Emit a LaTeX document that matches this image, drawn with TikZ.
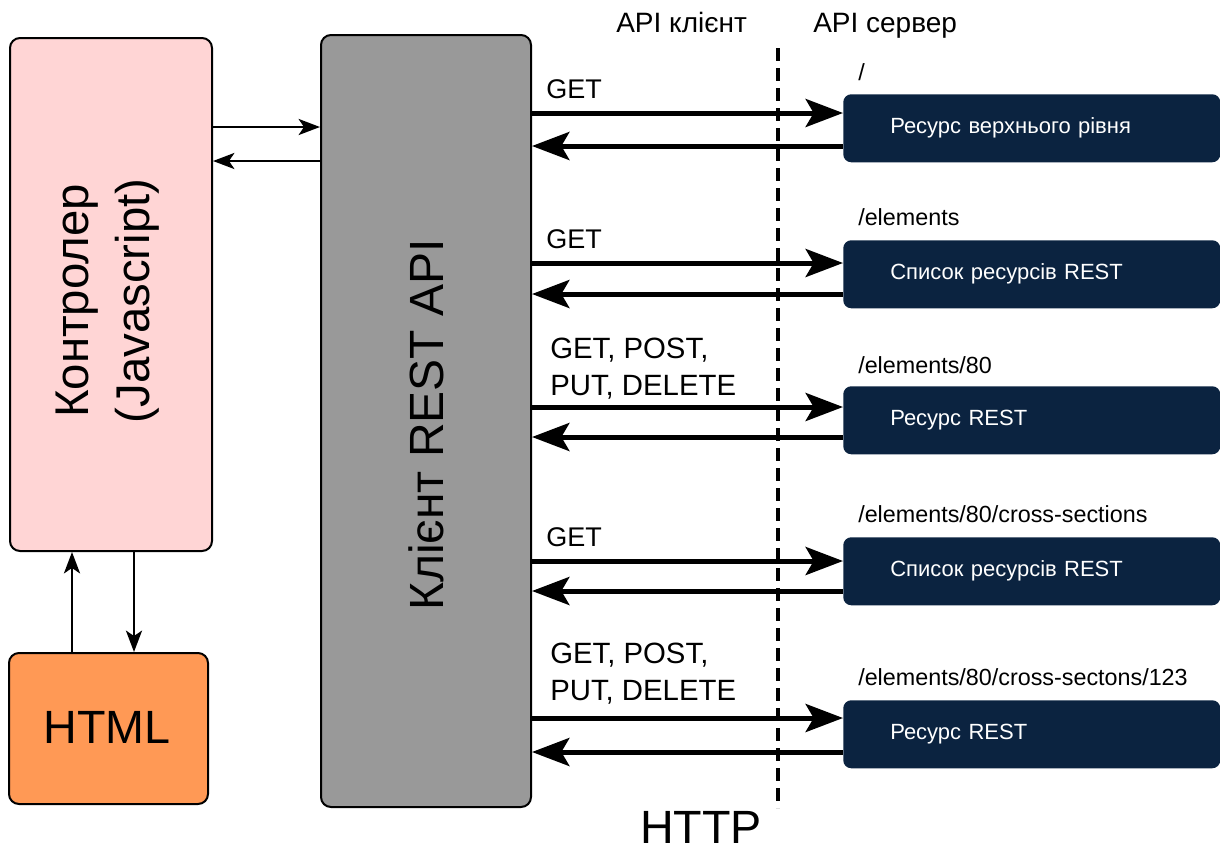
\documentclass[tikz,border=0pt]{standalone}
\usepackage{fontspec}
\setmainfont{Liberation Sans}
\usetikzlibrary{arrows.meta}
\definecolor{ctrlpink}{HTML}{FFD5D5}
\definecolor{htmlorange}{HTML}{FF9955}
\definecolor{clientgray}{HTML}{999999}
\definecolor{navy}{HTML}{0B2340}
\begin{document}
\begin{tikzpicture}[x=0.75pt,y=-0.75pt,
  lbox/.style={draw=black, line width=1.5pt, rounded corners=7.5pt, anchor=north west, inner sep=0pt},
  res/.style={fill=navy, rounded corners=6pt, anchor=north west, minimum height=51pt,
    text width=212.25pt, inner xsep=35.25pt, inner ysep=0pt, align=left, text=white,
    font=\fontsize{16.5}{19}\selectfont},
  big/.style={line width=3.75pt, -{Stealth[length=28pt,width=21pt,inset=6pt]}},
  small/.style={line width=2pt, -{Stealth[length=16pt,width=12pt,inset=4pt]}},
  method/.style={anchor=base west, font=\fontsize{20.25}{27.75}\selectfont, align=left, inner sep=0pt},
  method2/.style={anchor=base west, font=\fontsize{22}{27.75}\selectfont, align=left, inner sep=0pt},
  pathlbl/.style={anchor=base west, font=\fontsize{17.5}{20}\selectfont, inner sep=0pt},
  head/.style={anchor=base west, font=\fontsize{21}{25}\selectfont, inner sep=0pt},
]
\useasboundingbox (0,0) rectangle (1220,851);

% left boxes
\node[lbox, fill=ctrlpink, minimum width=151.5pt, minimum height=384.75pt] (ctrl) at (9,37) {};
\node[lbox, fill=htmlorange, minimum width=149.25pt, minimum height=113.25pt] (html) at (8,652) {};
\node[lbox, fill=clientgray, minimum width=157.5pt, minimum height=579pt] (client) at (320,34) {};

\node[rotate=90, anchor=base, align=center, font=\fontsize{35.5}{45.75}\selectfont, inner sep=0pt] (ctrltext) at (149,301) {Контролер\\(Javascript)};
\node[rotate=90, anchor=base, font=\fontsize{36}{40}\selectfont, inner sep=0pt] (clienttext) at (443,425) {Клієнт REST API};
\node[anchor=base, font=\fontsize{35}{40}\selectfont, inner sep=0pt] (htmltext) at (107,743) {HTML};

% resource boxes
\node[res] (r1) at (843,94) {Ресурс верхнього рівня};
\node[res] (r2) at (843,240) {Список ресурсів REST};
\node[res] (r3) at (843,386) {Ресурс REST};
\node[res] (r4) at (843,537) {Список ресурсів REST};
\node[res] (r5) at (843,700) {Ресурс REST};

% path labels
\node[pathlbl] (p1) at (858,80) {/};
\node[pathlbl] (p2) at (858,225) {/elements};
\node[pathlbl] (p3) at (858,373) {/elements/80};
\node[pathlbl] (p4) at (858,522) {/elements/80/cross-sections};
\node[pathlbl] (p5) at (858,685) {/elements/80/cross-sectons/123};

% method labels
\node[method] (m1) at (546,98) {GET};
\node[method] (m2) at (546,248) {GET};
\node[method2] (m3) at (550,395) {GET, POST,\\PUT, DELETE};
\node[method] (m4) at (546,546) {GET};
\node[method2] (m5) at (550,700) {GET, POST,\\PUT, DELETE};

% headers
\node[head] (hc) at (616,32) {API клієнт};
\node[head] (hs) at (813,32) {API сервер};
\node[anchor=base, font=\fontsize{35}{40}\selectfont, inner sep=0pt] (http) at (701,843) {HTTP};

% request / response arrows
\coordinate (a1) at (0,113); \coordinate (b1) at (0,146);
\coordinate (a2) at (0,263); \coordinate (b2) at (0,294);
\coordinate (a3) at (0,407); \coordinate (b3) at (0,437);
\coordinate (a4) at (0,561); \coordinate (b4) at (0,591);
\coordinate (a5) at (0,718); \coordinate (b5) at (0,752);
\foreach \i in {1,...,5}{
  \draw[big] (client.east |- a\i) -- (r\i.west |- a\i);
  \draw[big] (r\i.west |- b\i) -- (client.east |- b\i);
}

% dashed separator
\coordinate (dtop) at (778,48);
\coordinate (dbot) at (778,808);
\draw[line width=3pt, dash pattern=on 10pt off 5pt] (dtop) -- (dbot);

% controller <-> client
\coordinate (c1) at (0,127); \coordinate (c2) at (0,161);
\draw[small] (ctrl.east |- c1) -- (client.west |- c1);
\draw[small] (client.west |- c2) -- (ctrl.east |- c2);

% controller <-> html
\coordinate (v1) at (72,0); \coordinate (v2) at (134,0);
\draw[small] (html.north -| v1) -- (ctrl.south -| v1);
\draw[small] (ctrl.south -| v2) -- (html.north -| v2);
\end{tikzpicture}
\end{document}
